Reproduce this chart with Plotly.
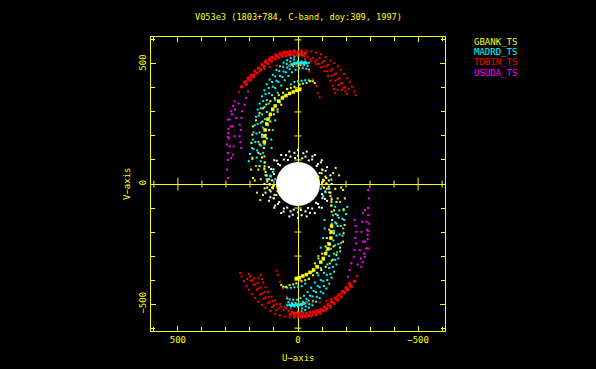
import plotly.graph_objects as go

title_text = "V053e3 (1803+784, C-band, doy:309, 1997)"
station_names = ["GBANK_TS", "MADRD_TS", "TDBIN_TS", "USUDA_TS"]
major_ticks = [-500, 0, 500]
minor_ticks = [-600, -400, -300, -200, -100, 100, 200, 300, 400, 600]

# (u, v) samples, upper half then lower half
red_dense = [(236,405),(222,425),(208,440),(195,452),(180,470),(165,483),(150,497),(135,508),(120,518),(105,527),(90,535),(75,540),(60,545),(45,548),(30,550),(15,551),(0,550),(-15,548),(-30,544),
(215,415),(200,432),(185,447),(170,462),(155,476),(140,490),(125,502),(110,512),(95,522),(80,528),(65,532),(50,535),(35,538),(20,538),(5,538),(-10,538),(-25,534),
(-236,-405),(-222,-425),(-208,-440),(-195,-452),(-180,-470),(-165,-483),(-150,-497),(-135,-508),(-120,-518),(-105,-527),(-90,-535),(-75,-540),(-60,-545),(-45,-548),(-30,-550),(-15,-551),(0,-550),(15,-548),(30,-544),
(-215,-415),(-200,-432),(-185,-447),(-170,-462),(-155,-476),(-140,-490),(-125,-502),(-110,-512),(-95,-522),(-80,-528),(-65,-532),(-50,-535),(-35,-538),(-20,-538),(-5,-538),(10,-538),(25,-534)]
red_sparse = [(-15,557),(-35,555),(-55,552),(-75,547),(-95,540),(-115,528),(-135,515),(-150,503),(-165,490),(-178,475),(-192,458),(-205,440),(-215,425),(-225,405),(-235,385),(-240,370),
(-40,530),(-60,525),(-80,518),(-100,505),(-118,490),(-135,472),(-150,455),(-165,435),(-178,418),(-190,400),(-198,385),(-205,375),
(-55,510),(-75,500),(-95,485),(-110,470),(-125,450),(-135,430),(-145,410),(-150,395),(-155,378),(-165,392),
(-90,361),(-83,379),(-76,407),(-62,435),(-46,469),(-21,490),(7,493),(35,493),(62,493),(90,493),(118,487),(139,479),(160,469),(181,456),(201,442),(215,428),(232,404),(246,382),
(15,557),(35,555),(55,552),(75,547),(95,540),(115,528),(135,515),
(-30,520),(-50,518),(-70,510),(-88,500),(-105,488),(-122,470),(-140,450),(-155,430),(-168,412),(-182,392),
(-90,525),(-108,512),(-125,495),(-142,478),(-158,460),(-172,440),(-185,420),(-197,403),(-212,395),
(15,-557),(35,-555),(55,-552),(75,-547),(95,-540),(115,-528),(135,-515),(150,-503),(165,-490),(178,-475),(192,-458),(205,-440),(215,-425),(225,-405),(235,-385),(240,-370),
(40,-530),(60,-525),(80,-518),(100,-505),(118,-490),(135,-472),(150,-455),(165,-435),(178,-418),(190,-400),(198,-385),(205,-375),
(55,-510),(75,-500),(95,-485),(110,-470),(125,-450),(135,-430),(145,-410),(150,-395),(155,-378),(165,-392),
(90,-361),(83,-379),(76,-407),(62,-435),(46,-469),(21,-490),(-7,-493),(-35,-493),(-62,-493),(-90,-493),(-118,-487),(-139,-479),(-160,-469),(-181,-456),(-201,-442),(-215,-428),(-232,-404),(-246,-382),
(-15,-557),(-35,-555),(-55,-552),(-75,-547),(-95,-540),(-115,-528),(-135,-515),
(30,-520),(50,-518),(70,-510),(88,-500),(105,-488),(122,-470),(140,-450),(155,-430),(168,-412),(182,-392),
(90,-525),(108,-512),(125,-495),(142,-478),(158,-460),(172,-440),(185,-420),(197,-403),(212,-395)]
cyan_dense = [(35,492),(25,497),(15,500),(5,503),(-5,503),(-15,505),(-25,505),(-35,503),
(-35,-492),(-25,-497),(-15,-500),(-5,-503),(5,-503),(15,-505),(25,-505),(35,-503)]
cyan_sparse = [(205,95),(200,125),(192,150),(188,185),(185,215),(180,245),(175,280),(168,310),(160,335),(150,365),(140,390),(130,415),(118,435),(105,455),(90,475),(75,490),(60,505),(45,515),(30,525),(15,530),(0,535),(-15,537),
(175,75),(172,110),(170,140),(165,175),(160,215),(155,255),(150,290),(140,320),(130,350),(120,378),(105,405),(90,430),(75,450),(60,468),(45,485),(30,497),(15,505),(0,510),(-15,510),(-30,510),(-45,505),
(140,60),(140,90),(145,130),(140,165),(135,205),(125,245),(118,280),(108,315),(95,350),(85,380),(70,410),(55,432),(40,450),(25,465),(10,475),(-5,482),(-20,482),(-35,480),(-46,476),
(110,150),(111,185),(105,225),(95,265),(85,300),(75,340),(60,365),(45,395),(30,415),(15,425),(0,428),(-15,430),(-30,432),(-45,432),(-60,430),
(130,20),(115,35),(105,50),(95,20),
(155,95),(157,125),(155,160),(150,195),(147,235),(137,270),(130,300),(122,335),(108,370),(95,400),(82,425),(65,445),(50,465),(35,478),(20,490),(5,492),(-10,495),(-25,495),(-40,492),
(190,110),(185,145),(178,175),(173,210),(168,250),(163,285),(155,315),(145,345),(135,375),(122,400),(108,425),(95,448),(78,470),(62,487),(47,500),(32,510),(17,518),
(-205,-95),(-200,-125),(-192,-150),(-188,-185),(-185,-215),(-180,-245),(-175,-280),(-168,-310),(-160,-335),(-150,-365),(-140,-390),(-130,-415),(-118,-435),(-105,-455),(-90,-475),(-75,-490),(-60,-505),(-45,-515),(-30,-525),(-15,-530),(0,-535),(15,-537),
(-175,-75),(-172,-110),(-170,-140),(-165,-175),(-160,-215),(-155,-255),(-150,-290),(-140,-320),(-130,-350),(-120,-378),(-105,-405),(-90,-430),(-75,-450),(-60,-468),(-45,-485),(-30,-497),(-15,-505),(0,-510),(15,-510),(30,-510),(45,-505),
(-140,-60),(-140,-90),(-145,-130),(-140,-165),(-135,-205),(-125,-245),(-118,-280),(-108,-315),(-95,-350),(-85,-380),(-70,-410),(-55,-432),(-40,-450),(-25,-465),(-10,-475),(5,-482),(20,-482),(35,-480),(46,-476),
(-110,-150),(-111,-185),(-105,-225),(-95,-265),(-85,-300),(-75,-340),(-60,-365),(-45,-395),(-30,-415),(-15,-425),(0,-428),(15,-430),(30,-432),(45,-432),(60,-430),
(-130,-20),(-115,-35),(-105,-50),(-95,-20),
(-155,-95),(-157,-125),(-155,-160),(-150,-195),(-147,-235),(-137,-270),(-130,-300),(-122,-335),(-108,-370),(-95,-400),(-82,-425),(-65,-445),(-50,-465),(-35,-478),(-20,-490),(-5,-492),(10,-495),(25,-495),(40,-492),
(-190,-110),(-185,-145),(-178,-175),(-173,-210),(-168,-250),(-163,-285),(-155,-315),(-145,-345),(-135,-375),(-122,-400),(-108,-425),(-95,-448),(-78,-470),(-62,-487),(-47,-500),(-32,-510),(-17,-518)]
yellow_dense = [(140,175),(138,200),(137,225),(130,250),(125,270),(115,290),(105,310),(95,325),(80,345),(65,358),(50,368),(35,377),(20,383),(5,390),(-7,393),
(-140,-175),(-138,-200),(-137,-225),(-130,-250),(-125,-270),(-115,-290),(-105,-310),(-95,-325),(-80,-345),(-65,-358),(-50,-368),(-35,-377),(-20,-383),(-5,-390),(7,-393)]
yellow_sparse = [(142,150),(140,115),(138,90),(140,65),(130,35),
(194,171),(190,205),(188,240),(175,265),(160,296),(145,315),(132,331),(115,345),(97,358),(80,370),(62,380),(45,395),(30,400),(15,405),
(-7,414),(-20,418),(-35,421),(-50,428),(-62,428),(-70,420),
(190,105),(195,60),(188,25),(180,15),(160,75),(150,110),(165,60),(155,20),(139,74),(135,50),(128,10),(118,-3),(104,-10),(100,-5),(120,20),
(150,205),(160,165),(165,130),(148,260),(120,225),(130,190),(115,260),(100,290),(85,310),(70,330),
(-90,46),(-104,18),(-118,25),(-139,18),(-157,67),(-171,36),(-146,46),(-100,60),(-85,30),
(-142,-150),(-140,-115),(-138,-90),(-140,-65),(-130,-35),
(-194,-171),(-190,-205),(-188,-240),(-175,-265),(-160,-296),(-145,-315),(-132,-331),(-115,-345),(-97,-358),(-80,-370),(-62,-380),(-45,-395),(-30,-400),(-15,-405),
(7,-414),(20,-418),(35,-421),(50,-428),(62,-428),(70,-420),
(-190,-105),(-195,-60),(-188,-25),(-180,-15),(-160,-75),(-150,-110),(-165,-60),(-155,-20),(-139,-74),(-135,-50),(-128,-10),(-118,3),(-104,10),(-100,5),(-120,-20),
(-150,-205),(-160,-165),(-165,-130),(-148,-260),(-120,-225),(-130,-190),(-115,-260),(-100,-290),(-85,-310),(-70,-330),
(90,-46),(104,-18),(118,-25),(139,-18),(157,-67),(171,-36),(146,-46),(100,-60),(85,-30)]
magenta_points = [(292,25),(295,60),(292,100),(292,129),(296,165),(292,195),(290,230),(292,268),(278,303),(264,344),(270,325),
(236,150),(243,199),(243,247),(232,303),(215,358),(208,386),(240,175),(238,225),(235,275),(222,330),
(278,108),(285,157),(288,190),(290,212),(285,268),(275,290),(264,199),(271,240),(257,275),(268,157),(271,122),(280,240),(262,310),(248,335),
(-292,-25),(-295,-60),(-292,-100),(-292,-129),(-296,-165),(-292,-195),(-290,-230),(-292,-268),(-278,-303),(-264,-344),(-270,-325),
(-236,-150),(-243,-199),(-243,-247),(-232,-303),(-215,-358),(-208,-386),(-240,-175),(-238,-225),(-235,-275),(-222,-330),
(-278,-108),(-285,-157),(-288,-190),(-290,-212),(-285,-268),(-275,-290),(-264,-199),(-271,-240),(-257,-275),(-268,-157),(-271,-122),(-280,-240),(-262,-310),(-248,-335)]
white_rings = [(140,0),(135,36),(121,70),(99,99),(70,121),(36,135),(0,140),(-36,135),(-70,121),(-99,99),(-121,70),(-135,36),(-140,0),(-135,-36),(-121,-70),(-99,-99),(-70,-121),(-36,-135),(0,-140),(36,-135),(70,-121),(99,-99),(121,-70),(135,-36),
(128,18),(112,62),(88,97),(50,120),(15,130),(-22,128),(-60,115),(-95,90),(-115,55),(-128,15),(-128,-18),(-112,-62),(-88,-97),(-50,-120),(-15,-130),(22,-128),(60,-115),(95,-90),(115,-55),(128,-15),
(118,0),(114,32),(102,61),(83,83),(59,102),(31,114),(0,118),(-31,114),(-59,102),(-83,83),(-102,59),(-114,31),(-118,0),(-114,-31),(-102,-59),(-83,-83),(-59,-102),(-31,-114),(0,-118),(31,-114),(59,-102),(83,-83),(102,-59),(114,-31),
(108,15),(100,42),(75,78),(42,100),(12,108),(-18,107),(-45,98),(-78,75),(-98,45),(-108,15),(-108,-15),(-100,-42),(-75,-78),(-42,-100),(-12,-108),(18,-107),(45,-98),(78,-75),(98,-45),(108,-15)]
white_core = [(0, 0)]

AXIS = "#ffff00"
FONT = "DejaVu Sans Mono"
fig = go.Figure()

def scatter(points, color, size, symbol="square"):
    fig.add_trace(go.Scatter(x=[p[0] for p in points], y=[p[1] for p in points], mode="markers",
                             marker=dict(color=color, size=size, symbol=symbol, line=dict(width=0)),
                             hoverinfo="skip", showlegend=False))

def cross_ticks(xs, ys, symbol, size):
    fig.add_trace(go.Scatter(x=xs, y=ys, mode="markers",
                             marker=dict(symbol=symbol, size=size, color=AXIS, line=dict(color=AXIS, width=1)),
                             hoverinfo="skip", showlegend=False))

cross_ticks(major_ticks, [0]*3, "line-ns-open", 9)
cross_ticks([0]*3, major_ticks, "line-ew-open", 9)
cross_ticks(minor_ticks, [0]*10, "line-ns-open", 5)
cross_ticks([0]*10, minor_ticks, "line-ew-open", 5)

scatter(white_core, "#ffffff", 44, "circle")
scatter(white_rings, "#ffffff", 2)
scatter(cyan_sparse, "#00ffff", 2)
scatter(cyan_dense, "#00ffff", 2.5)
scatter(yellow_sparse, "#ffff00", 2)
scatter(yellow_dense, "#ffff00", 3.5)
scatter(magenta_points, "#ff00ff", 2)
scatter(red_sparse, "#ff0000", 2)
scatter(red_dense, "#ff0000", 3)

axis_common = dict(
    showgrid=False, zeroline=True, zerolinecolor=AXIS, zerolinewidth=1, automargin=False,
    showline=True, linecolor=AXIS, linewidth=1, mirror="ticks",
    ticks="inside", ticklen=5, tickwidth=1, tickcolor=AXIS,
    tickmode="array", tickvals=major_ticks, ticktext=["500" if t == 500 else ("0" if t == 0 else "\u2212500") for t in major_ticks],
    tickfont=dict(family=FONT, size=9, color=AXIS),
    minor=dict(tickmode="array", tickvals=minor_ticks, ticks="inside", ticklen=4, tickwidth=1, tickcolor=AXIS, showgrid=False),
)
fig.update_layout(
    width=596, height=369, autosize=False,
    margin=dict(l=151, r=151, t=37, b=38),
    paper_bgcolor="#000000", plot_bgcolor="#000000",
    xaxis=dict(range=[612, -612], **axis_common),
    yaxis=dict(range=[-612, 612], tickangle=-90, **axis_common),
    annotations=[dict(text=title_text, xref="paper", yref="paper", x=0.5, y=(331-17)/294, xanchor="center", yanchor="middle", showarrow=False,
                      font=dict(family=FONT, size=8.6, color=AXIS)),
                 dict(text="U\u2212axis", xref="paper", yref="paper", x=0.5, y=(331-358)/294, xanchor="center", yanchor="middle", showarrow=False,
                      font=dict(family=FONT, size=9, color=AXIS)),
                 dict(text="V\u2212axis", xref="paper", yref="paper", x=(127-151)/294, y=0.5, xanchor="center", yanchor="middle", textangle=-90, showarrow=False,
                      font=dict(family=FONT, size=9, color=AXIS))] +
    [dict(text=n, xref="paper", yref="paper", x=(472-151)/294, y=(331-py)/294, xanchor="left", yanchor="middle",
          showarrow=False, font=dict(family=FONT, size=9, color=c))
     for n, py, c in zip(station_names, [42, 52, 62, 73], ["#ffff00", "#00ffff", "#ff0000", "#ff00ff"])],
)
fig.write_html("out.html", config={"displayModeBar": False},
               post_script="document.body.style.margin='0';document.body.style.background='#000';")
